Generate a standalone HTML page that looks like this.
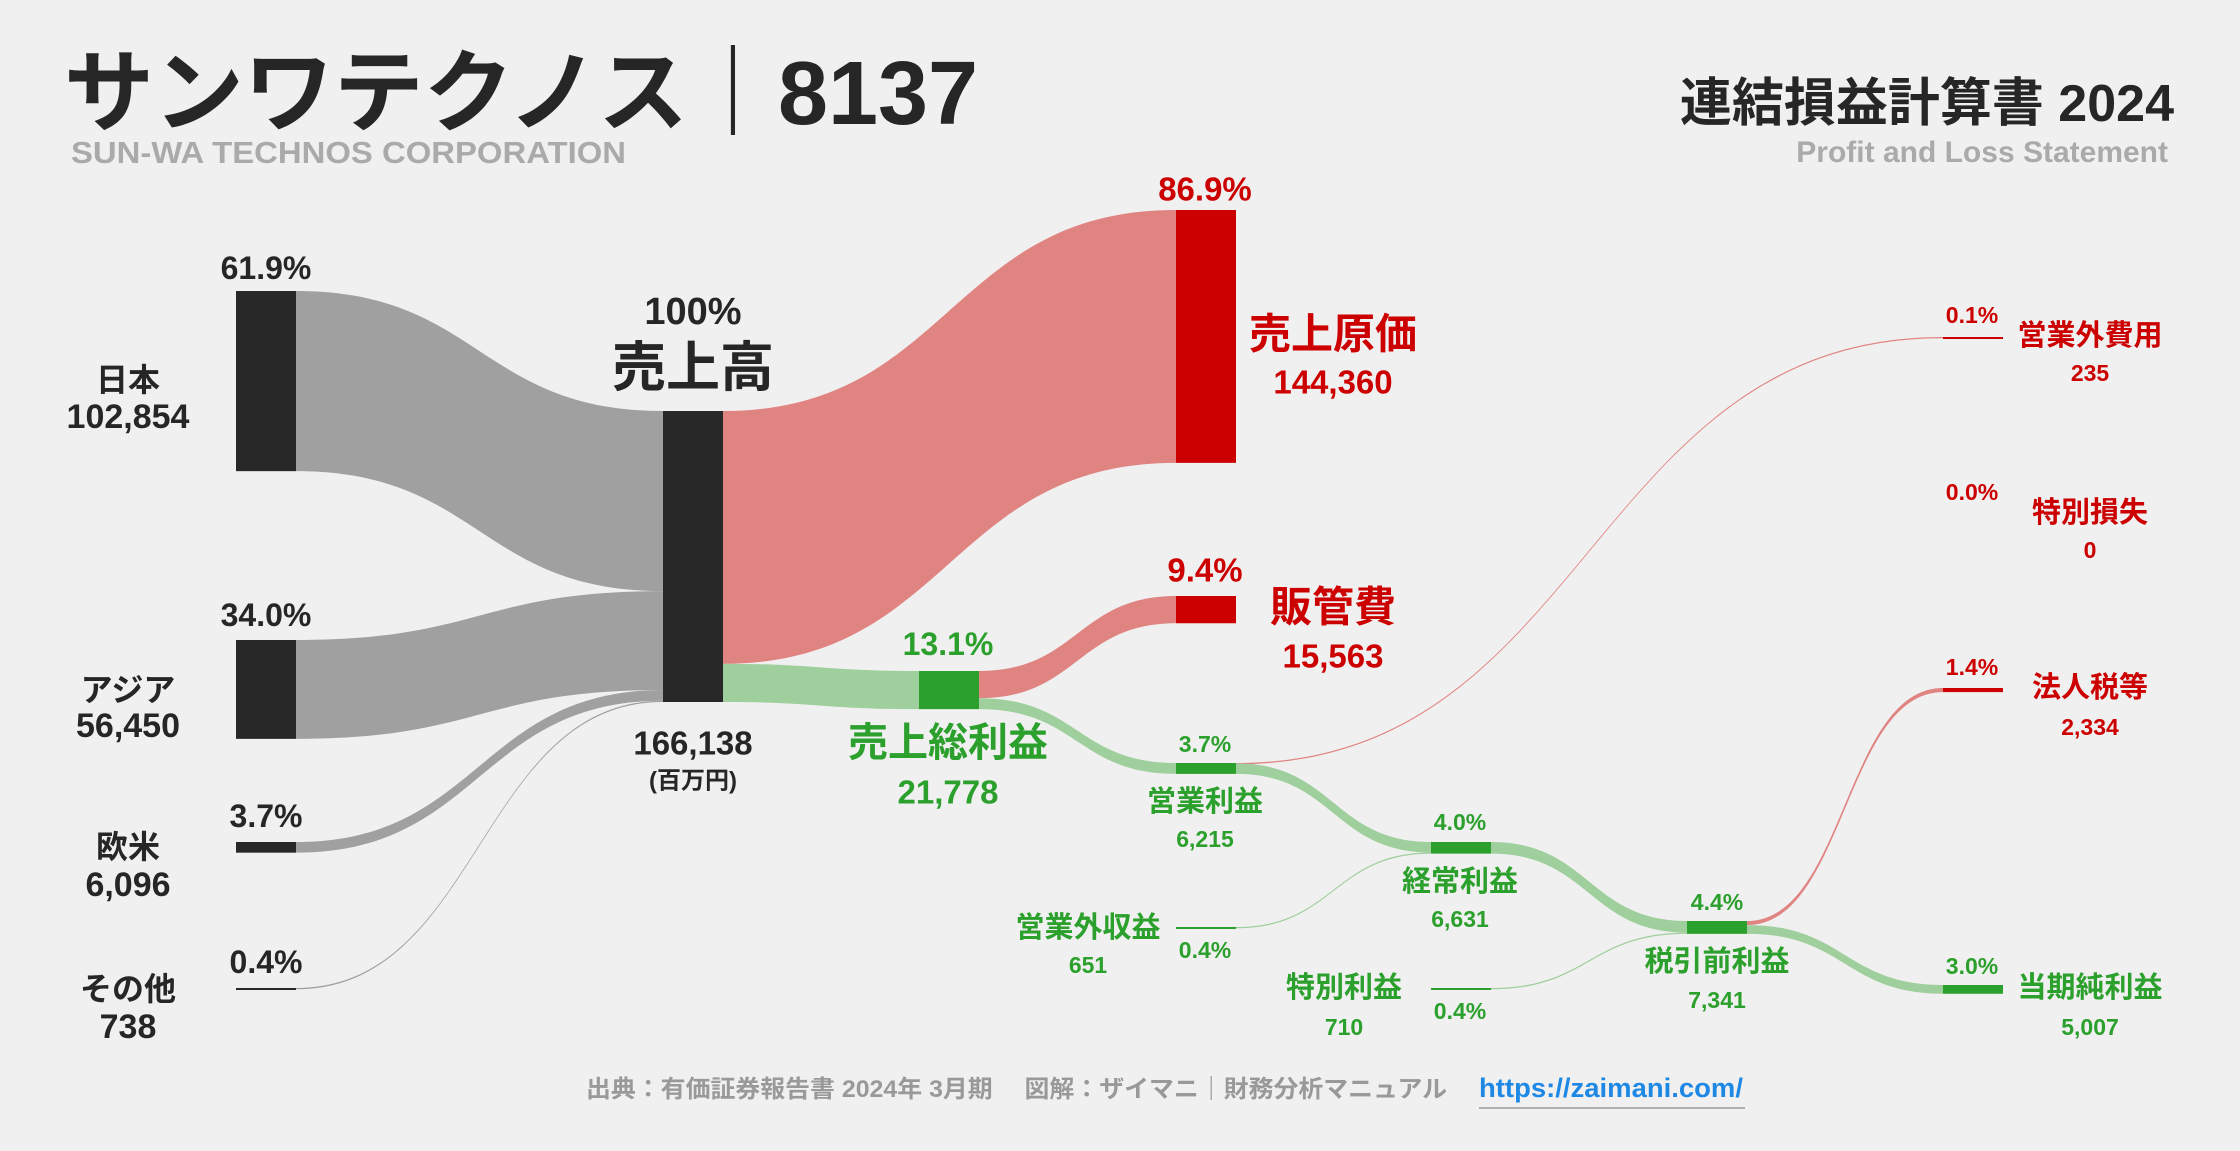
<!DOCTYPE html>
<html><head><meta charset="utf-8"><style>
html,body{margin:0;padding:0;background:#f0f0f0;}
svg{display:block;font-family:"Liberation Sans","Noto Sans CJK JP",sans-serif;font-weight:bold;}
</style></head><body>
<svg id="chart" width="2240" height="1151" viewBox="0 0 2240 1151" xmlns="http://www.w3.org/2000/svg">
<rect width="2240" height="1151" fill="#f0f0f0"/>
<text x="64" y="124" font-size="90" fill="#262626" textLength="914" lengthAdjust="spacingAndGlyphs">サンワテクノス｜8137</text>
<text x="71" y="163" font-size="31" fill="#aaaaaa" textLength="555" lengthAdjust="spacingAndGlyphs">SUN-WA TECHNOS CORPORATION</text>
<text x="2174" y="121" font-size="52" fill="#262626" text-anchor="end">連結損益計算書 2024</text>
<text x="2168" y="162" font-size="30" fill="#aaaaaa" text-anchor="end">Profit and Loss Statement</text>
<g id="links"></g>
<g id="nodes"></g>
<g id="labels"></g>
<text x="586" y="1097" font-size="24" fill="#999999" textLength="861" lengthAdjust="spacingAndGlyphs">出典：有価証券報告書 2024年 3月期　 図解：ザイマニ｜財務分析マニュアル</text>
<text x="1479" y="1097" font-size="27" fill="#1e88e5" textLength="264" lengthAdjust="spacingAndGlyphs">https://zaimani.com/</text>
<line x1="1479" y1="1108" x2="1745" y2="1108" stroke="#999" stroke-width="1.5"/>
</svg>
<script>
const nodeIds = ["japan","asia","europe","other","rev","cogs","gp","sga","op","nonopinc","nonopexp","ord","spgain","sploss","pretax","tax","net"];
const nodeNames = ["日本","アジア","欧米","その他","売上高","売上原価","売上総利益","販管費","営業利益","営業外収益","営業外費用","経常利益","特別利益","特別損失","税引前利益","法人税等","当期純利益"];
const nodeValues = [102854,56450,6096,738,166138,144360,21778,15563,6215,651,235,6631,710,0,7341,2334,5007];
const nodePcts = ["61.9%","34.0%","3.7%","0.4%","100%","86.9%","13.1%","9.4%","3.7%","0.4%","0.1%","4.0%","0.4%","0.0%","4.4%","1.4%","3.0%"];
const linkSources = ["japan","asia","europe","other","rev","rev","gp","gp","op","op","nonopinc","ord","spgain","pretax","pretax"];
const linkTargets = ["rev","rev","rev","rev","cogs","gp","sga","op","nonopexp","ord","ord","pretax","pretax","tax","net"];
const linkValues = [102854,56450,6096,738,144360,21778,15563,6215,235,5980,651,6631,710,2334,5007];

const K = 291/166138;
const NW = 60;
const layout = {
 japan:{x:236,y:291,c:"#282828",lc:"#a0a0a0"}, asia:{x:236,y:640,c:"#282828",lc:"#a0a0a0"},
 europe:{x:236,y:842,c:"#282828",lc:"#a0a0a0"}, other:{x:236,y:988,c:"#282828",lc:"#a0a0a0"},
 rev:{x:663,y:411,c:"#282828"}, cogs:{x:1176,y:210,c:"#cc0000"}, gp:{x:919,y:671,c:"#2ca02c"},
 sga:{x:1176,y:596,c:"#cc0000"}, op:{x:1176,y:763,c:"#2ca02c"}, nonopinc:{x:1176,y:927,c:"#2ca02c"},
 nonopexp:{x:1943,y:337,c:"#cc0000"}, ord:{x:1431,y:842,c:"#2ca02c"}, spgain:{x:1431,y:988,c:"#2ca02c"},
 sploss:{x:1943,y:500,c:"#cc0000"}, pretax:{x:1687,y:921,c:"#2ca02c"}, tax:{x:1943,y:688,c:"#cc0000"},
 net:{x:1943,y:985,c:"#2ca02c"}
};
const NS="http://www.w3.org/2000/svg";
function h(v){return v*K;}
const outOff={}, inOff={};
nodeIds.forEach(id=>{outOff[id]=0;inOff[id]=0;});
const gL=document.getElementById("links");
for(let i=0;i<linkValues.length;i++){
  const s=linkSources[i], t=linkTargets[i], v=linkValues[i];
  const S=layout[s], T=layout[t];
  const w=Math.max(h(v),1.3);
  const x0=S.x+NW, x1=T.x;
  const y0=S.y+outOff[s], y1=T.y+inOff[t];
  outOff[s]+=h(v); inOff[t]+=h(v);
  const mx=(x0+x1)/2;
  const red=(T.c==="#cc0000");
  const col=S.lc?S.lc:(red?"#e08482":"#9fcf9c");
  const p=document.createElementNS(NS,"path");
  p.setAttribute("d",`M${x0},${y0} C${mx},${y0} ${mx},${y1} ${x1},${y1} L${x1},${y1+w} C${mx},${y1+w} ${mx},${y0+w} ${x0},${y0+w} Z`);
  p.setAttribute("fill",col);
  
  
  gL.appendChild(p);
}
const gN=document.getElementById("nodes");
nodeIds.forEach((id,i)=>{
  if(nodeValues[i]===0) return;
  const L=layout[id];
  const r=document.createElementNS(NS,"rect");
  const hh=Math.max(h(nodeValues[i]),2);
  r.setAttribute("x",L.x);r.setAttribute("y",L.y);r.setAttribute("width",NW);r.setAttribute("height",hh);
  r.setAttribute("fill",L.c);
  
  
  gN.appendChild(r);
});
const gT=document.getElementById("labels");
function txt(x,y,s,size,col,name,anchor){
  const t=document.createElementNS(NS,"text");
  t.setAttribute("x",x);t.setAttribute("y",y);t.setAttribute("font-size",size);t.setAttribute("fill",col);
  t.setAttribute("text-anchor",anchor||"middle");t.setAttribute("dominant-baseline","central");
  t.textContent=s;
  
  
  gT.appendChild(t);
}
function fmt(v){return v.toLocaleString("en-US");}
const D="#262626",R="#cc0000",G="#2ca02c";
// [id, pctX,pctY,pctSize, nameX,nameY,nameSize, valX,valY,valSize, color]
const labelPos = [
 ["japan",266,268,32,128,380,32,128,417,34,D],
 ["asia",266,615,32,128,690,32,128,726,34,D],
 ["europe",266,816,32,128,847,32,128,885,34,D],
 ["other",266,962,32,128,989,32,128,1027,34,D],
 ["rev",693,312,38,693,368,54,693,743,33,D],
 ["cogs",1205,189,33,1333,334,42,1333,382,33,R],
 ["gp",948,644,32,948,743,40,948,792,33,G],
 ["sga",1205,570,33,1333,607,42,1333,656,33,R],
 ["op",1205,744,23,1205,802,29,1205,839,23,G],
 ["nonopinc",1205,950,23,1088,928,29,1088,965,23,G],
 ["nonopexp",1972,315,23,2090,336,29,2090,373,23,R],
 ["ord",1460,822,23,1460,882,29,1460,919,23,G],
 ["spgain",1460,1011,23,1344,988,29,1344,1027,23,G],
 ["sploss",1972,492,23,2090,513,29,2090,550,23,R],
 ["pretax",1717,902,23,1717,962,29,1717,1000,23,G],
 ["tax",1972,667,23,2090,688,29,2090,727,23,R],
 ["net",1972,966,23,2090,988,29,2090,1027,23,G]
];
labelPos.forEach(l=>{
  const i=nodeIds.indexOf(l[0]);
  txt(l[1],l[2],nodePcts[i],l[3],l[10],`pct-${l[0]}`);
  txt(l[4],l[5],nodeNames[i],l[6],l[10],`name-${l[0]}`);
  txt(l[7],l[8],fmt(nodeValues[i]),l[9],l[10],`value-${l[0]}`);
});
txt(693,781,"(百万円)",24,D,"unit-label");
</script>
</body></html>
